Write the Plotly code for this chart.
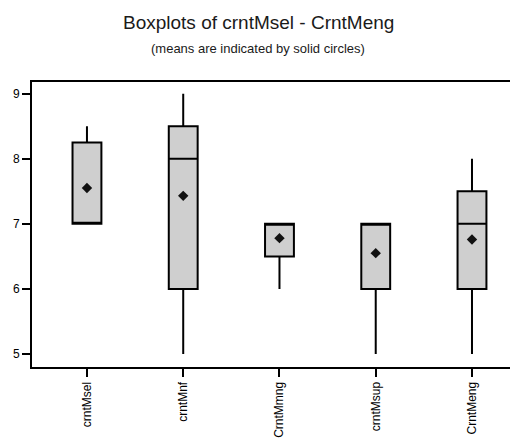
import plotly.graph_objects as go

categories = ["crntMsel", "crntMnf", "CrntMmng", "crntMsup", "CrntMeng"]
q1 = [7.0, 6.0, 6.5, 6.0, 6.0]
median = [7.0, 8.0, 7.0, 7.0, 7.0]
q3 = [8.25, 8.5, 7.0, 7.0, 7.5]
lowerfence = [7.0, 5.0, 6.0, 5.0, 5.0]
upperfence = [8.5, 9.0, 7.0, 7.0, 8.0]
means = [7.55, 7.43, 6.78, 6.55, 6.76]
yticks = [5, 6, 7, 8, 9]

fig = go.Figure()
fig.add_trace(go.Box(
    x=categories, q1=q1, median=median, q3=q3,
    lowerfence=lowerfence, upperfence=upperfence,
    fillcolor="#cfcfcf", line=dict(color="black", width=2),
    width=0.3, whiskerwidth=0, boxpoints=False, showlegend=False,
    hoverinfo="skip",
))
fig.add_trace(go.Scatter(
    x=categories, y=means, mode="markers",
    marker=dict(symbol="diamond", size=8, color="#111111"),
    showlegend=False, hoverinfo="skip",
))

# page body has an 8px margin, so the figure is offset by 8px
fig.update_layout(
    width=510, height=432,
    margin=dict(l=24, r=0, t=74, b=73),
    paper_bgcolor="white", plot_bgcolor="white",
    font=dict(family="Liberation Sans, Arial, sans-serif", color="black"),
)
fig.add_annotation(text="Boxplots of crntMsel - CrntMeng", xref="paper", yref="paper",
                   x=(258 - 32) / 486, y=1 + (82 - 22) / 285, showarrow=False,
                   font=dict(size=19, color="#1a1a1a"), xanchor="center", yanchor="middle")
fig.add_annotation(text="(means are indicated by solid circles)", xref="paper", yref="paper",
                   x=(258 - 32) / 486, y=1 + (82 - 48) / 285, showarrow=False,
                   font=dict(size=13, color="#1a1a1a"), xanchor="center", yanchor="middle")

fig.update_xaxes(
    range=[-0.571, 4.478], showline=True, linecolor="black", linewidth=2,
    mirror=True, ticks="outside", ticklen=8, tickwidth=2, tickcolor="black",
    tickangle=-90, tickfont=dict(size=12), showgrid=False, zeroline=False,
    automargin=False,
)
fig.update_yaxes(
    range=[4.8, 9.18], tickvals=yticks, showline=True, linecolor="black", linewidth=2,
    ticks="outside", ticklen=8, tickwidth=2, tickcolor="black",
    tickfont=dict(size=12), showgrid=False, zeroline=False, automargin=False,
)

fig.write_html("out.html")
